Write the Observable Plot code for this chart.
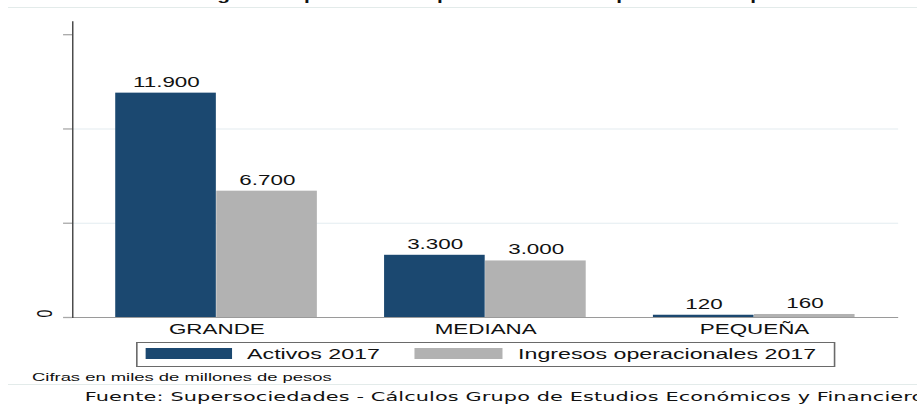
<!DOCTYPE html>
<html><head><meta charset="utf-8">
<script src="https://cdn.jsdelivr.net/npm/d3@7"></script>
<script src="https://cdn.jsdelivr.net/npm/@observablehq/plot@0.6"></script>
<style>
html,body{margin:0;padding:0;background:#fff;overflow:hidden;width:917px;height:405px}
#wrap{position:absolute;left:0;top:0;width:573px;height:405px;transform:scaleX(1.6003);transform-origin:0 0;font-family:"Liberation Sans",Arial,sans-serif;color:#111}
#title{position:absolute;left:12.5px;top:-11.5px;font-weight:bold;font-size:13px;line-height:13px;white-space:nowrap;color:#111}
.sep{position:absolute;left:5px;width:570px;height:1px;background:#e3ebea}
#chart{position:absolute;left:0;top:10px}
#legend{position:absolute;left:85px;top:342px;width:437px;height:25px;box-sizing:border-box;border:1px solid #6a6a6a;background:#fff}
#legend .sw{position:absolute;top:5px;height:11px}
#legend .lb{position:absolute;top:0;line-height:23px;font-size:14.5px;white-space:nowrap;color:#111}
#note{position:absolute;left:20px;top:371px;font-size:11.5px;line-height:12px;white-space:nowrap;color:#111}
#source{position:absolute;left:53px;top:389.5px;font-family:"DejaVu Sans",sans-serif;font-size:13px;line-height:14px;letter-spacing:0.08px;white-space:nowrap;color:#111}
</style></head><body>
<div id="wrap">
  <div id="title">Total de activos e ingresos operacionales por tamaño de empresa del Grupo</div>
  <div class="sep" style="top:6.5px"></div>
  <div id="chart"></div>
  <div id="legend"></div>
  <div id="note">Cifras en miles de millones de pesos</div>
  <div class="sep" style="top:384px"></div>
  <div id="source">Fuente: Supersociedades - Cálculos Grupo de Estudios Económicos y Financieros</div>
</div>
<script>
const categories = ["GRANDE", "MEDIANA", "PEQUEÑA"];
const series = ["Activos 2017", "Ingresos operacionales 2017"];
const activos = [11900, 3300, 120];
const ingresos = [6700, 3000, 160];
const yTicks = [0, 5000, 10000, 15000];
const yGrid = [5000, 10000];
const yLabeled = [0];
const colors = ["#1b4870", "#b2b2b2"];

const fmt = d3.formatLocale({decimal: ",", thousands: ".", grouping: [3], currency: ["$", ""]}).format(",");

const W = 573, H = 332, mL = 45, mR = 11.75, mT = 11, mB = 25;
const pIn = 0.249, pOut = 0.16;
const step = (W - mL - mR) / (categories.length - pIn + 2 * pOut);
const bw = step * (1 - pIn);

const rowsA = categories.map((c, i) => ({cat: c, serie: series[0], v: activos[i]}));
const rowsI = categories.map((c, i) => ({cat: c, serie: series[1], v: ingresos[i]}));

const chart = Plot.plot({
  width: W, height: H,
  marginLeft: mL, marginRight: mR, marginTop: mT, marginBottom: mB,
  style: {fontFamily: '"Liberation Sans", Arial, sans-serif', fontSize: "14px", color: "#111", background: "transparent", overflow: "visible"},
  x: {type: "band", domain: categories, paddingInner: pIn, paddingOuter: pOut},
  y: {domain: [0, 15700]},
  marks: [
    Plot.ruleY(yGrid, {stroke: "#e3ecf0", strokeWidth: 1}),
    Plot.barY(rowsA, {x: "cat", y: "v", fill: colors[0], insetRight: bw / 2}),
    Plot.barY(rowsI, {x: "cat", y: "v", fill: colors[1], insetLeft: bw / 2}),
    Plot.ruleY([0], {stroke: "#9a9a9a", strokeWidth: 1.2}),
    Plot.axisY({ticks: yTicks, tickSize: 5.6, stroke: "#a8a8a8", strokeWidth: 1.3, tickFormat: () => "", label: null}),
    Plot.frame({anchor: "left", stroke: "#111", strokeWidth: 0.7}),
    Plot.text(yLabeled, {y: d => d, text: d => fmt(d), frameAnchor: "left", dx: -17.5, rotate: -90, fontSize: 14}),
    Plot.axisX({tickSize: 0, tickPadding: 7, fontSize: 14, label: null}),
    Plot.text(rowsA, {x: "cat", y: "v", text: d => fmt(d.v), dx: -bw / 4, dy: -6.5, lineAnchor: "bottom", fontSize: 14}),
    Plot.text(rowsI, {x: "cat", y: "v", text: d => fmt(d.v), dx: bw / 4, dy: -6.5, lineAnchor: "bottom", fontSize: 14})
  ]
});
document.getElementById("chart").appendChild(chart);

// legend
const legend = document.getElementById("legend");
const legendPos = [{sw: 4.6, swW: 54.4, lb: 68.4}, {sw: 173.4, swW: 55, lb: 237.75}];
series.forEach((s, i) => {
  const sw = document.createElement("div");
  sw.className = "sw";
  sw.style.left = legendPos[i].sw + "px";
  sw.style.width = legendPos[i].swW + "px";
  sw.style.background = colors[i];
  legend.appendChild(sw);
  const lb = document.createElement("div");
  lb.className = "lb";
  lb.style.left = legendPos[i].lb + "px";
  lb.textContent = s;
  legend.appendChild(lb);
});
</script>
</body></html>
